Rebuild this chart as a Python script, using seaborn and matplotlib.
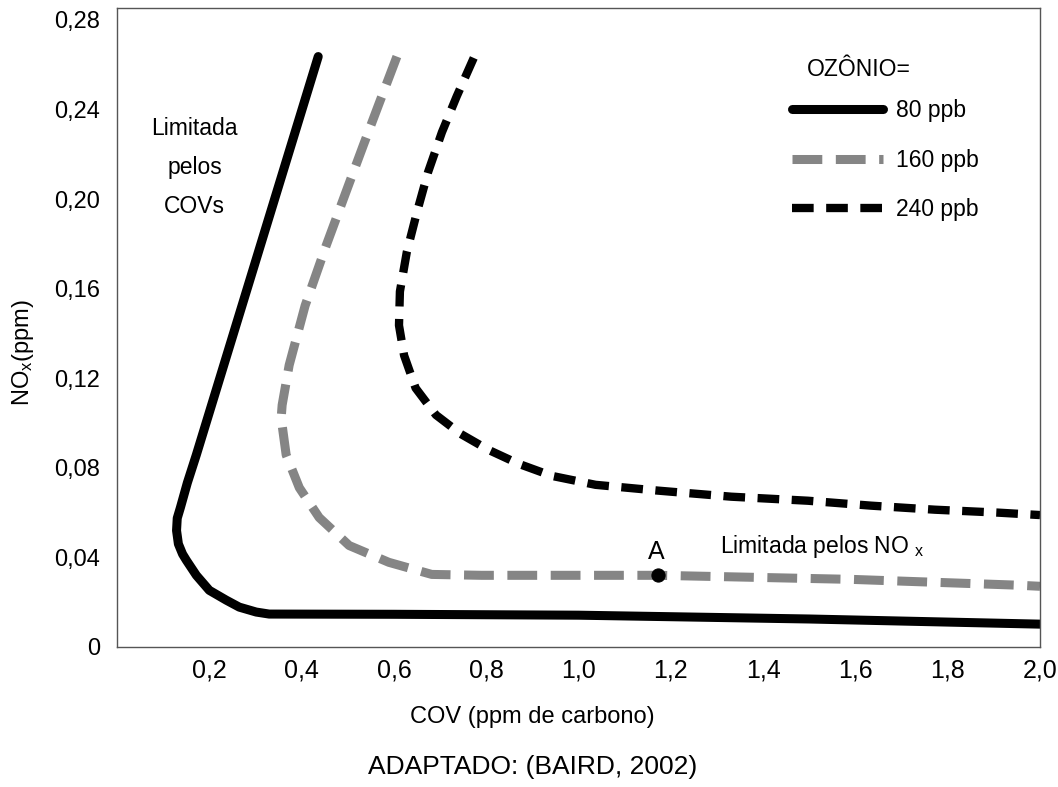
import matplotlib
matplotlib.use('Agg')  # no display
import matplotlib.pyplot as plt
import seaborn as sns

# --- isopletas de ozônio (COV em ppm C, NOx em ppm) ---
cov_80 = [0.436, 0.1719, 0.1524, 0.1373, 0.1305, 0.1290, 0.1330, 0.1420, 0.1503,
          0.1719, 0.200, 0.2368, 0.2649, 0.3016, 0.3297, 0.600, 1.000, 1.500, 2.000]
nox_80 = [0.2636, 0.0858, 0.0733, 0.0622, 0.0575, 0.0520, 0.0460, 0.0415, 0.0387,
          0.0320, 0.0253, 0.0209, 0.0178, 0.0156, 0.0147, 0.0146, 0.0142, 0.0125,
          0.0102]

cov_160 = [0.6065, 0.5654, 0.5330, 0.4984, 0.4530, 0.4076, 0.3730, 0.3578, 0.3557,
           0.3665, 0.395, 0.438, 0.503, 0.589, 0.682, 0.790, 1.173, 1.590, 1.951,
           2.000]
nox_160 = [0.2636, 0.2413, 0.2236, 0.2044, 0.1791, 0.1524, 0.1258, 0.1080, 0.1022,
           0.0858, 0.0711, 0.0578, 0.0453, 0.0378, 0.0324, 0.0320, 0.0320, 0.0302,
           0.0276, 0.0271]

cov_240 = [0.773, 0.736, 0.704, 0.674, 0.650, 0.628, 0.613, 0.611, 0.622, 0.647,
           0.691, 0.745, 0.805, 0.870, 0.942, 1.037, 1.173, 1.331, 1.497, 1.634,
           1.772, 1.908, 2.000]
nox_240 = [0.2630, 0.2458, 0.2298, 0.2120, 0.1942, 0.1764, 0.1587, 0.1436, 0.1302,
           0.1156, 0.1036, 0.0951, 0.0880, 0.0818, 0.0764, 0.0724, 0.0698, 0.0671,
           0.0653, 0.0631, 0.0613, 0.0600, 0.0589]

point_a_cov = [1.173]
point_a_nox = [0.032]

x_ticks = [0.2, 0.4, 0.6, 0.8, 1.0, 1.2, 1.4, 1.6, 1.8, 2.0]
x_tick_labels = ['0,2', '0,4', '0,6', '0,8', '1,0', '1,2', '1,4', '1,6', '1,8', '2,0']
y_ticks = [0, 0.04, 0.08, 0.12, 0.16, 0.20, 0.24, 0.28]
y_tick_labels = ['0', '0,04', '0,08', '0,12', '0,16', '0,20', '0,24', '0,28']

series_labels = ['80 ppb', '160 ppb', '240 ppb']

# --- style ---
sns.set_style('white')
plt.rcParams['font.family'] = ['Liberation Sans', 'DejaVu Sans']
plt.rcParams['mathtext.fontset'] = 'custom'
plt.rcParams['mathtext.rm'] = 'Liberation Sans'
plt.rcParams['mathtext.it'] = 'Liberation Sans:italic'
plt.rcParams['text.color'] = 'black'
plt.rcParams['axes.labelcolor'] = 'black'

fig = plt.figure(figsize=(10.58, 7.87), dpi=100)
ax = fig.add_axes([0.1106, 0.1779, 0.8724, 0.812])

sns.lineplot(x=cov_80, y=nox_80, sort=False, estimator=None, ax=ax,
             color='black', lw=6.5, label=series_labels[0])
sns.lineplot(x=cov_160, y=nox_160, sort=False, estimator=None, ax=ax,
             color='#858585', lw=6.5, linestyle=(0, (3.3, 1.5)),
             label=series_labels[1])
sns.lineplot(x=cov_240, y=nox_240, sort=False, estimator=None, ax=ax,
             color='black', lw=6, linestyle=(0, (2.6, 1.5)),
             label=series_labels[2])
sns.scatterplot(x=point_a_cov, y=point_a_nox, ax=ax, color='black',
                edgecolor='black', s=90, zorder=5, legend=False)

ax.set_xlim(0, 2.0)
ax.set_ylim(0.0013, 0.2853)

ax.set_xticks(x_ticks, labels=x_tick_labels, fontsize=18)
ax.set_yticks(y_ticks, labels=y_tick_labels, fontsize=17)
ax.tick_params(axis='both', direction='in', length=17, width=1.1,
               color='#333333', labelcolor='black')
ax.tick_params(axis='x', pad=8)
ax.tick_params(axis='y', pad=12)
yt = ax.yaxis.get_major_ticks()
yt[0].tick1line.set_visible(False)
yt[-1].tick1line.set_visible(False)

for s in ax.spines.values():
    s.set_color('#555555')
    s.set_linewidth(1.0)

ax.set_xlabel('COV (ppm de carbono)', fontsize=17)
ax.xaxis.set_label_coords(0.45, -0.092)
ax.set_ylabel('NO$_{\\mathrm{x}}$(ppm)', fontsize=17)
ax.yaxis.set_label_coords(-0.088, 0.46)

# annotations
ax.text(0.168, 0.2140, 'Limitada\npelos\nCOVs', ha='center', va='center',
        fontsize=16.5, linespacing=1.88)
ax.text(1.169, 0.0425, 'A', ha='center', va='center', fontsize=18)
ax.text(1.307, 0.0418, 'Limitada pelos NO$\\ _{\\mathrm{x}}$', ha='left',
        va='baseline', fontsize=16.5)
ax.text(1.495, 0.2578, 'OZÔNIO=', ha='left', va='center', fontsize=16.5)

handles, labels = ax.get_legend_handles_labels()
ax.legend(handles, labels, loc='upper left', bbox_to_anchor=(0.731, 0.857),
          frameon=False, handlelength=3.97, handletextpad=0.6,
          labelspacing=1.16, borderpad=0, borderaxespad=0, fontsize=16.5)

fig.text(0.503, 1 - 767 / 787, 'ADAPTADO: (BAIRD, 2002)', ha='center',
         va='center', fontsize=19)

fig.savefig('out.png', dpi=100)
plt.close(fig)
